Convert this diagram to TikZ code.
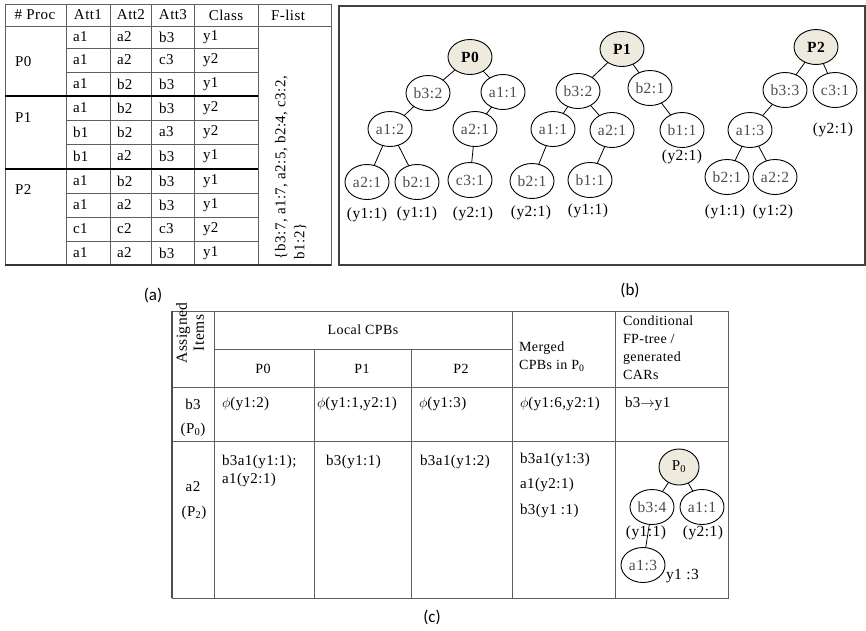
\documentclass[tikz,border=0pt]{standalone}
\usepackage{fontspec}
\setmainfont{Liberation Serif}[LetterSpace=3]
\newfontfamily\capfont{Carlito}
\usetikzlibrary{shapes.geometric}

\definecolor{rootfill}{RGB}{238,234,222}
\definecolor{rule}{RGB}{95,95,95}
\definecolor{nodetext}{RGB}{75,75,75}

\begin{document}
\begin{tikzpicture}[x=1pt,y=-1pt,
  every node/.style={inner sep=0pt, outer sep=0pt},
  grid/.style={draw=rule, line width=1pt},
  sep/.style={draw=black, line width=2.6pt},
  frame/.style={draw=black!75, line width=1.6pt},
  tcell/.style={anchor=west, font=\fontsize{15}{15}\selectfont},
  thead/.style={font=\fontsize{15}{15}\selectfont},
  ccell/.style={anchor=west, font=\fontsize{15}{18}\selectfont, align=left},
  chead/.style={font=\fontsize{14}{18}\selectfont},
  tnode/.style={ellipse, draw=black, line width=0.9pt, minimum width=44pt,
    minimum height=35pt, text=nodetext, font=\fontsize{15.5}{15.5}\selectfont},
  troot/.style={tnode, fill=rootfill, text=black, font=\fontsize{15.5}{15.5}\selectfont\bfseries},
  tlab/.style={font=\fontsize{15.5}{15.5}\selectfont},
  edge/.style={draw=black, line width=0.8pt},
  caption/.style={font=\capfont\fontsize{17}{17}\selectfont}
]
\useasboundingbox (0,0) rectangle (866,630);

% ---------------- (a) transaction table ----------------
\draw[grid] (5,4) rectangle (331,265);
\foreach \x in {66,110,151,194,258} \draw[grid] (\x,4) -- (\x,265);
\draw[grid] (5,26) -- (331,26);
\foreach \y in {48,72,120,144,193,217,241} \draw[grid] (66,\y) -- (258,\y);
\draw[sep] (5,96) -- (258,96);
\draw[sep] (5,169) -- (258,169);
\draw[draw=black!80, line width=1.8pt] (5,265) -- (331,265);

\node[thead] (ha0) at (35,15) {\# Proc};
\node[thead] (ha1) at (88,15) {Att1};
\node[thead] (ha2) at (131,15) {Att2};
\node[thead] (ha3) at (173,15) {Att3};
\node[thead] (ha4) at (226,15) {Class};
\node[thead] (ha5) at (288,15) {F-list};

\node[tcell] (gp0) at (15,62) {P0};
\node[tcell] (gp1) at (15,118) {P1};
\node[tcell] (gp2) at (15,190) {P2};

\foreach \r/\y/\a/\b/\c/\d in {1/37/a1/a2/b3/y1, 2/60/a1/a2/c3/y2, 3/84/a1/b2/b3/y1,
    4/108/a1/b2/b3/y2, 5/132/b1/b2/a3/y2, 6/156/b1/a2/b3/y1,
    7/181/a1/b2/b3/y1, 8/205/a1/a2/b3/y1, 9/229/c1/c2/c3/y2, 10/253/a1/a2/b3/y1} {
  \node[tcell] (ra\r-1) at (73,\y) {\a};
  \node[tcell] (ra\r-2) at (117,\y) {\b};
  \node[tcell] (ra\r-3) at (159,\y) {\c};
  \node[tcell] (ra\r-4) at (203,\y) {\d};
}

\node[rotate=90, anchor=north west, align=left, font=\fontsize{15}{19}\selectfont]
  (flist) at (275,259) {\{b3:7, a1:7, a2:5, b2:4, c3:2,\\b1:2\}};

\node[caption] (capa) at (153,295) {(a)};

% ---------------- (b) local FP-trees ----------------
\draw[frame] (339,6) rectangle (865,265);

% tree of P0
\node[troot] (t0r) at (470,57) {P0};
\node[tnode] (t0b3) at (428,93) {b3:2};
\node[tnode] (t0a1) at (503,92) {a1:1};
\node[tnode] (t0a1x) at (390,129) {a1:2};
\node[tnode] (t0a2) at (475,129) {a2:1};
\node[tnode] (t0l1) at (367,182) {a2:1};
\node[tnode] (t0l2) at (417,182) {b2:1};
\node[tnode] (t0l3) at (470,180) {c3:1};
\node[tlab] (t0y1) at (367,215) {(y1:1)};
\node[tlab] (t0y2) at (417,214) {(y1:1)};
\node[tlab] (t0y3) at (473,214) {(y2:1)};
\draw[edge] (t0r) -- (t0b3);
\draw[edge] (t0r) -- (t0a1);
\draw[edge] (t0b3) -- (t0a1x);
\draw[edge] (t0a1) -- (t0a2);
\draw[edge] (t0a1x) -- (t0l1);
\draw[edge] (t0a1x) -- (t0l2);
\draw[edge] (t0a2) -- (t0l3);

% tree of P1
\node[troot] (t1r) at (622,49) {P1};
\node[tnode] (t1b3) at (578,91) {b3:2};
\node[tnode] (t1b2) at (650,88) {b2:1};
\node[tnode] (t1a1) at (553,129) {a1:1};
\node[tnode] (t1a2) at (612,130) {a2:1};
\node[tnode] (t1b1) at (682,130) {b1:1};
\node[tnode] (t1l1) at (532,181) {b2:1};
\node[tnode] (t1l2) at (590,180) {b1:1};
\node[tlab] (t1y1) at (531,213) {(y2:1)};
\node[tlab] (t1y2) at (588,211) {(y1:1)};
\node[tlab] (t1y3) at (682,157) {(y2:1)};
\draw[edge] (t1r) -- (t1b3);
\draw[edge] (t1r) -- (t1b2);
\draw[edge] (t1b3) -- (t1a1);
\draw[edge] (t1b3) -- (t1a2);
\draw[edge] (t1b2) -- (t1b1);
\draw[edge] (t1a1) -- (t1l1);
\draw[edge] (t1a2) -- (t1l2);

% tree of P2
\node[troot] (t2r) at (816,47) {P2};
\node[tnode] (t2b3) at (785,90) {b3:3};
\node[tnode] (t2c3) at (835,90) {c3:1};
\node[tnode] (t2a1) at (750,130) {a1:3};
\node[tnode] (t2b2) at (727,177) {b2:1};
\node[tnode] (t2a2) at (775,177) {a2:2};
\node[tlab] (t2y1) at (833,130) {(y2:1)};
\node[tlab] (t2y2) at (725,212) {(y1:1)};
\node[tlab] (t2y3) at (773,212) {(y1:2)};
\draw[edge] (t2r) -- (t2b3);
\draw[edge] (t2r) -- (t2c3);
\draw[edge] (t2b3) -- (t2a1);
\draw[edge] (t2a1) -- (t2b2);
\draw[edge] (t2a1) -- (t2a2);

\node[caption] (capb) at (630,290) {(b)};

% ---------------- (c) mining table ----------------
\draw[grid] (172,311) rectangle (728,598);
\draw[draw=black!70, line width=1.4pt] (172,311) -- (172,598);
\foreach \x in {214,512,615} \draw[grid] (\x,311) -- (\x,598);
\foreach \x in {314,411} \draw[grid] (\x,349) -- (\x,598);
\draw[grid] (214,349) -- (512,349);
\draw[grid] (172,387) -- (728,387);
\draw[grid] (172,441) -- (728,441);

\node[chead, rotate=90, align=center, font=\fontsize{15.5}{17}\selectfont] (hc0) at (190,333) {Assigned\\Items};
\node[chead] (hc1) at (363,330) {Local CPBs};
\node[chead] (hc2) at (263,369) {P0};
\node[chead] (hc3) at (362,369) {P1};
\node[chead] (hc4) at (461,369) {P2};
\node[chead, anchor=west, align=left] (hc5) at (519,357) {Merged\\CPBs in P\textsubscript{0}};
\node[chead, anchor=west, align=left] (hc6) at (623,348) {Conditional\\FP-tree /\\generated\\CARs};

\node[ccell, anchor=center] (ci1) at (193,404) {b3};
\node[ccell, anchor=center] (ci2) at (193,430) {(P\textsubscript{0})};
\node[ccell, anchor=center] (ci3) at (193,487) {a2};
\node[ccell, anchor=center] (ci4) at (194,513) {(P\textsubscript{2})};

\node[ccell] (cb1) at (222,404) {$\phi$(y1:2)};
\node[ccell] (cb2) at (317,404) {$\phi$(y1:1,y2:1)};
\node[ccell] (cb3) at (419,404) {$\phi$(y1:3)};
\node[ccell] (cb4) at (520,404) {$\phi$(y1:6,y2:1)};
\node[ccell] (cb5) at (625,404) {b3$\rightarrow$y1};

\node[ccell] (ca1) at (222,471) {b3a1(y1:1);\\a1(y2:1)};
\node[ccell] (ca2) at (326,462) {b3(y1:1)};
\node[ccell] (ca3) at (420,462) {b3a1(y1:2)};
\node[ccell] (ca4a) at (520,460) {b3a1(y1:3)};
\node[ccell] (ca4b) at (520,485) {a1(y2:1)};
\node[ccell] (ca4c) at (520,511) {b3(y1 :1)};

% conditional FP-tree
\node[troot, minimum width=40pt, minimum height=36pt, font=\fontsize{15}{15}\selectfont] (cr) at (679,467) {P\textsubscript{0}};
\node[tnode] (cb34) at (652,507) {b3:4};
\node[tnode] (ca11) at (702,507) {a1:1};
\node[tnode] (ca13) at (643,565) {a1:3};
\node[tlab] (cy1) at (646,533) {(y1:1)};
\node[tlab] (cy2) at (703,533) {(y2:1)};
\node[tlab, anchor=west] (cy3) at (666,576) {y1 :3};
\draw[edge] (cr) -- (cb34);
\draw[edge] (cr) -- (ca11);
\draw[edge] (cb34) -- (ca13);

\node[caption] (capc) at (432,617) {(c)};
\end{tikzpicture}
\end{document}
